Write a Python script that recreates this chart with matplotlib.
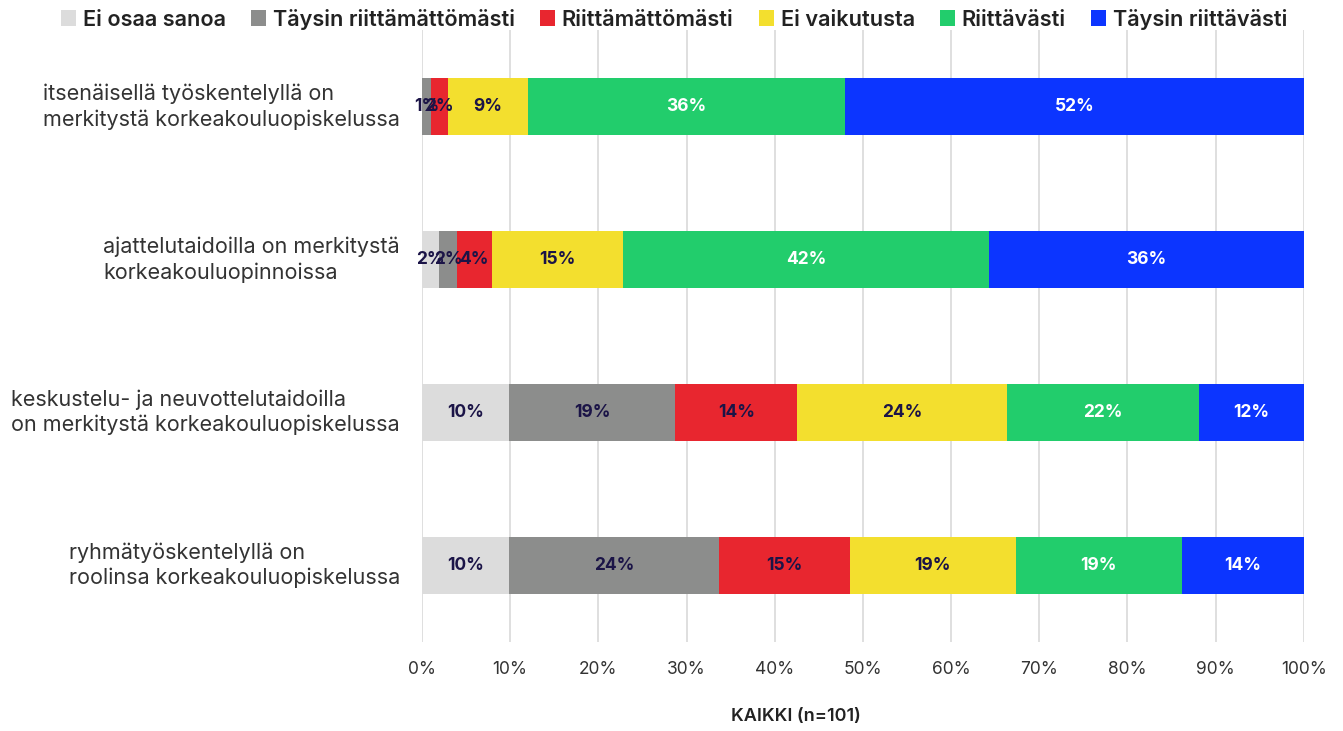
import numpy as np
import matplotlib.pyplot as plt
from matplotlib.ticker import PercentFormatter

plt.rcParams['font.family'] = ['Inter', 'DejaVu Sans']

categories = [
    'itsenäisellä työskentelyllä on\nmerkitystä korkeakouluopiskelussa',
    'ajattelutaidoilla on merkitystä\nkorkeakouluopinnoissa',
    'keskustelu- ja neuvottelutaidoilla\non merkitystä korkeakouluopiskelussa',
    'ryhmätyöskentelyllä on\nroolinsa korkeakouluopiskelussa',
]
series = ['Ei osaa sanoa', 'Täysin riittämättömästi', 'Riittämättömästi',
          'Ei vaikutusta', 'Riittävästi', 'Täysin riittävästi']
# percentages per row, in series order
values = np.array([
    [0, 1, 2, 9, 36, 52],
    [2, 2, 4, 15, 42, 36],
    [10, 19, 14, 24, 22, 12],
    [10, 24, 15, 19, 19, 14],
])
colors = ['#DCDCDC', '#8C8D8C', '#E8262F', '#F3DF2E', '#22CD6C', '#0C35FF']
label_colors = ['#1B1447', '#1B1447', '#1B1447', '#1B1447', 'white', 'white']

fig = plt.figure(figsize=(13.43, 7.31), dpi=100)
ax = fig.add_axes([0.3142, 0.1218, 0.6566, 0.837])

# bars fill the full 0-100 scale, labels show the rounded shares
shares = values / values.sum(axis=1, keepdims=True) * 100
y = np.arange(len(categories))
left = np.zeros(len(categories))
for i, name in enumerate(series):
    ax.barh(y, shares[:, i], left=left, height=0.375, color=colors[i],
            label=name, zorder=3)
    for j in range(len(categories)):
        if values[j, i] > 0:
            ax.text(left[j] + shares[j, i] / 2, y[j], f'{values[j, i]}%',
                    ha='center', va='center', fontsize=12.5, fontweight='bold',
                    color=label_colors[i], zorder=4)
    left += shares[:, i]

ax.set_xlim(0, 100)
ax.set_ylim(3.5, -0.5)
ax.xaxis.set_major_formatter(PercentFormatter(decimals=0))
ax.set_xticks(np.arange(0, 101, 10))
ax.grid(axis='x', color='#D9D9D9', linewidth=1.2, zorder=0)
ax.tick_params(axis='x', length=0, labelsize=12.5, labelcolor='#333333', pad=14)
ax.tick_params(axis='y', length=0)
ax.set_yticks(y)
ax.set_yticklabels([])
for sp in ax.spines.values():
    sp.set_visible(False)

for j, cat in enumerate(categories):
    ax.text(-0.025, y[j], cat, transform=ax.get_yaxis_transform(),
            ha='right', va='center', multialignment='left',
            fontsize=15.5, color='#333333', linespacing=1.3)

ax.set_xlabel('KAIKKI (n=101)', fontsize=13, fontweight='semibold',
              color='#222222')
ax.xaxis.set_label_coords(0.424, -0.108)

leg = fig.legend(loc='upper center', bbox_to_anchor=(0.502, 1.015), ncol=6,
                 frameon=False, handlelength=0.7, handleheight=0.7,
                 handletextpad=0.3, columnspacing=1.17,
                 prop={'size': 15.6, 'weight': 'semibold'})
for t in leg.get_texts():
    t.set_color('#222222')

fig.savefig('out.png', dpi=100)
